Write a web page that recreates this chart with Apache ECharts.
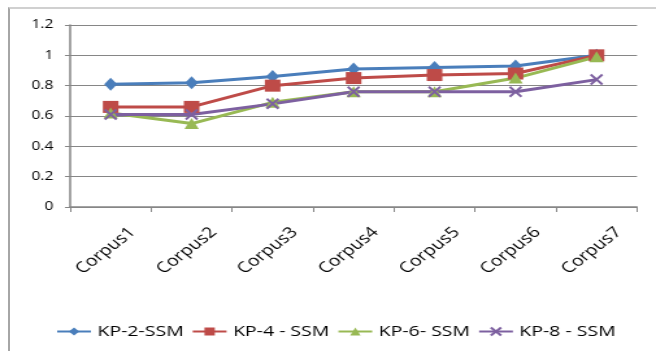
<!DOCTYPE html>
<html>
<head>
<meta charset="utf-8">
<script src="https://cdn.jsdelivr.net/npm/echarts@6/dist/echarts.min.js"></script>
<style>
  html, body { margin: 0; padding: 0; background: #fff; overflow: hidden; }
  #frame { position: absolute; left: 8px; top: 7px; width: 660px; height: 360px;
           border-left: 2px solid #a6a6a6; border-top: 2px solid #d0d0d0; }
  /* the chart is drawn on a narrower canvas and widened horizontally */
  #chart { position: absolute; left: 0; top: 0; width: 505px; height: 351px;
           transform-origin: 0 0; transform: scaleX(1.299); }
</style>
</head>
<body>
<div id="frame"></div>
<div id="chart"></div>
<script>
const categories = ['Corpus1', 'Corpus2', 'Corpus3', 'Corpus4', 'Corpus5', 'Corpus6', 'Corpus7'];
const kp2 = [0.81, 0.82, 0.86, 0.91, 0.92, 0.93, 1.00];
const kp4 = [0.66, 0.66, 0.80, 0.85, 0.87, 0.88, 1.00];
const kp6 = [0.62, 0.55, 0.69, 0.76, 0.76, 0.85, 0.99];
const kp8 = [0.61, 0.61, 0.68, 0.76, 0.76, 0.76, 0.84];
const yTicks = [0, 0.2, 0.4, 0.6, 0.8, 1, 1.2];
const seriesNames = ['KP-2-SSM', 'KP-4 - SSM', 'KP-6- SSM', 'KP-8 - SSM'];

const font = '"Open Sans", "DejaVu Sans", sans-serif';

function lineSeries(name, data, color, symbol, size) {
  return {
    name: name,
    type: 'line',
    data: data,
    symbol: symbol,
    symbolSize: size,
    lineStyle: { color: color, width: 3 },
    itemStyle: { color: color, borderColor: color, borderWidth: symbol.startsWith('path') ? 2 : 0 },
    emphasis: { disabled: true },
    animation: false
  };
}

const chart = echarts.init(document.getElementById('chart'));
chart.setOption({
  animation: false,
  grid: { left: 54, right: 14.6, top: 25, bottom: 144 },
  xAxis: {
    type: 'category',
    data: categories,
    boundaryGap: true,
    axisLine: { lineStyle: { color: '#868686', width: 1.5 } },
    axisTick: { show: true, length: 5, lineStyle: { color: '#868686' } },
    axisLabel: { rotate: 45, margin: 40, color: '#000', fontSize: 15, fontFamily: font,
                 padding: [0, -24, 0, 0] }
  },
  yAxis: {
    type: 'value',
    min: yTicks[0],
    max: yTicks[yTicks.length - 1],
    interval: 0.2,
    axisLine: { show: true, lineStyle: { color: '#868686', width: 1.5 } },
    axisTick: { show: true, length: 4, lineStyle: { color: '#868686' } },
    splitLine: { lineStyle: { color: '#868686', width: 1 } },
    axisLabel: { color: '#000', fontSize: 12, fontFamily: font, margin: 13,
                 formatter: v => String(+v.toFixed(1)) }
  },
  legend: {
    top: 319,
    left: 38,
    itemWidth: 26,
    itemHeight: 10,
    itemGap: 6,
    textStyle: { color: '#000', fontSize: 15, fontFamily: font },
    data: seriesNames
  },
  series: [
    lineSeries(seriesNames[0], kp2, '#4a7ebb', 'diamond', [10, 13]),
    lineSeries(seriesNames[1], kp4, '#be4b48', 'rect', 12),
    lineSeries(seriesNames[2], kp6, '#98b954', 'triangle', 11),
    lineSeries(seriesNames[3], kp8, '#7d60a0', 'path://M0,0 L10,10 M10,0 L0,10', [9, 10])
  ]
});
</script>
</body>
</html>
